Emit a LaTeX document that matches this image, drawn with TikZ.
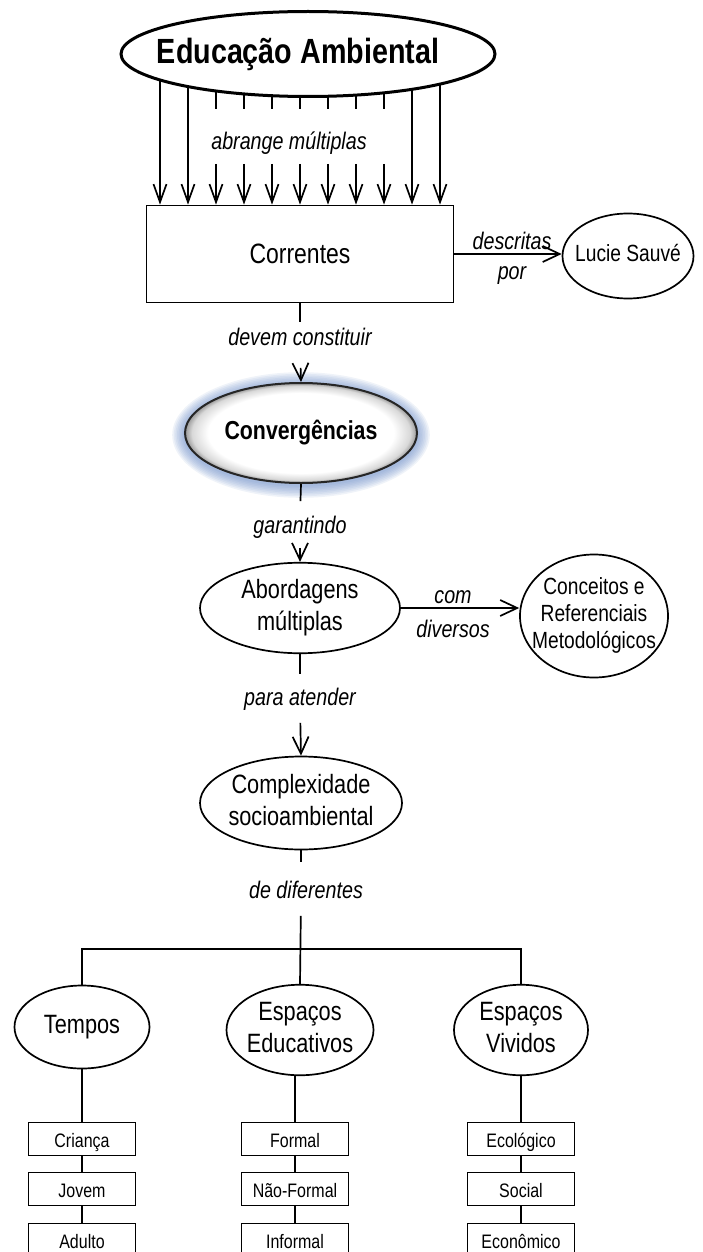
\documentclass[tikz,border=0pt]{standalone}
\usepackage{fontspec}
\setmainfont{Liberation Sans}[FakeStretch=0.82]
\usepackage{tikz}
\usetikzlibrary{arrows.meta}
\usetikzlibrary{shapes.geometric}
\usetikzlibrary{backgrounds}
\usetikzlibrary{positioning}

\definecolor{glowblue}{RGB}{105,140,200}
\pgfdeclareradialshading{convrim}{\pgfpoint{0bp}{0bp}}{color(0bp)=(white); color(20bp)=(white); color(23.5bp)=(black!15); color(25bp)=(black!40); color(50bp)=(black!40)}
\newcommand{\ovaltext}[1]{\makebox[0pt]{\begin{tabular}{@{}c@{}}#1\end{tabular}}}

\tikzset{
    oval/.style={ellipse, draw, fill=white, inner sep=0pt, font=\fontsize{26.5}{32}\selectfont},
    smalloval/.style={oval, font=\fontsize{23.4}{27}\selectfont},
    itembox/.style={rectangle, draw, fill=white, inner sep=0pt, minimum width=107pt, minimum height=33pt, text height=17.5pt, text depth=0pt, font=\fontsize{19.5}{22}\selectfont},
    linklabel/.style={inner sep=0pt, text height=16pt, text depth=0pt, font=\itshape\fontsize{24}{30}\selectfont},
    twolabel/.style={inner sep=0pt, align=center, font=\itshape\fontsize{24}{30}\selectfont},
    arr/.style={-{Straight Barb[length=17pt, width=16pt]}},
    toparr/.style={-{Straight Barb[length=18pt, width=13pt]}}
}

\begin{document}
\begin{tikzpicture}[x=1pt, y=-1pt, line width=1.7pt]
    \begin{scope}[on background layer]
        \fill[white] (0,0) rectangle (702,1252);
    \end{scope}
    \useasboundingbox (0,0) rectangle (702,1252);

    % Educacao Ambiental and Correntes
    \node[oval, line width=3pt, minimum width=374pt, minimum height=85pt, font=\bfseries\fontsize{35}{40}\selectfont] (edu) at (308,54) {\makebox[0pt]{Educação Ambiental\hspace{20pt}}};
    \node[linklabel] (abr) at (289,142) {abrange múltiplas};
    \node[rectangle, draw, minimum width=307pt, minimum height=97pt, font=\fontsize{28}{30}\selectfont] (cor) at (300,254) {Correntes};

    % Lucie Sauve
    \node[smalloval, minimum width=131pt, minimum height=85pt] (lucie) at (628,256) {\ovaltext{Lucie Sauvé}};
    \node[twolabel] (desc) at (512,258) {descritas\\por};
    \draw[arr] (cor.east) -- (cor.east -| lucie.west);

    % Convergencias
    \node[linklabel] (dev) at (300,337) {devem constituir};
    \node[oval, shade, shading=convrim, draw=black!85, line width=2pt, minimum width=232pt, minimum height=100pt, font=\bfseries\fontsize{26}{30}\selectfont] (conv) at (301,433) {\ovaltext{Convergências}};
    \draw[shorten >=6pt] (cor.south) -- (dev.north);
    \draw[arr, shorten <=22pt] (dev.south) -- (conv.north);

    % Abordagens and Conceitos
    \node[linklabel] (gar) at (300,525) {garantindo};
    \node[oval, minimum width=200pt, minimum height=85pt] (abo) at (300,608) {\ovaltext{Abordagens\\múltiplas}};
    \node[twolabel, font=\itshape\fontsize{24}{34}\selectfont] (com) at (453,614) {com\\diversos};
    \node[smalloval, minimum width=148pt, minimum height=123pt] (conc) at (594,616) {\ovaltext{Conceitos e\\Referenciais\\Metodológicos}};
    \draw[shorten >=15pt] (conv.south) -- (gar.north);
    \draw[arr, shorten <=14pt] (gar.south) -- (abo.north);
    \draw[arr] (abo.east) -- (abo.east -| conc.west);

    % Complexidade
    \node[linklabel] (par) at (300,697) {para atender};
    \node[oval, minimum width=202pt, minimum height=93pt] (cpx) at (301,803) {\ovaltext{Complexidade\\socioambiental}};
    \node[linklabel] (dif) at (306,890) {de diferentes};
    \draw[shorten >=14pt] (abo.south) -- (par.north);
    \draw[arr, shorten <=17pt] (par.south) -- (cpx.north);

    % Tempos and Espacos
    \coordinate (bar) at (300,949);
    \node[oval, minimum width=135pt, minimum height=83pt] (tem) at (82,1027) {\ovaltext{Tempos}};
    \node[oval, minimum width=147pt, minimum height=84pt] (edc) at (300,1030) {\ovaltext{Espaços\\Educativos}};
    \node[oval, minimum width=134pt, minimum height=85pt] (viv) at (521,1030) {\ovaltext{Espaços\\Vividos}};
    \draw[shorten >=19pt] (cpx.south) -- (cpx.south |- dif.north);
    \draw[shorten <=17pt] (cpx.south |- dif.south) -- (edc.north);
    \draw (tem.north) |- (bar) -| (viv.north);

    % Item boxes
    \node[itembox] (cri) at (82,1139) {Criança};
    \node[itembox] (jov) at (82,1189) {Jovem};
    \node[itembox] (adu) at (82,1240) {Adulto};
    \node[itembox] (fml) at (295,1139) {Formal};
    \node[itembox] (nfo) at (295,1189) {Não-Formal};
    \node[itembox] (inf) at (295,1240) {Informal};
    \node[itembox] (eco) at (521,1139) {Ecológico};
    \node[itembox] (soc) at (521,1189) {Social};
    \node[itembox] (ecn) at (521,1240) {Econômico};
    \draw (tem) -- (cri) -- (jov) -- (adu);
    \draw (edc.south -| fml) -- (fml) -- (nfo) -- (inf);
    \draw (viv) -- (eco) -- (soc) -- (ecn);

    % Arrows from Educacao Ambiental, glow of Convergencias
    \begin{scope}[on background layer={line width=1.7pt}]
        \foreach \x in {160,188,412,440}
            \draw[toparr] (\x,0 |- edu.center) -- (\x,0 |- cor.north);
        \foreach \x in {216,244,...,384} {
            \draw[shorten >=24pt] (\x,0 |- edu.center) -- (\x,0 |- abr.north);
            \draw[toparr, shorten <=13pt] (\x,0 |- abr.south) -- (\x,0 |- cor.north);
        }
        \foreach \k in {1,...,8}
            \fill[glowblue, opacity=0.1] ([yshift=-2pt]conv.center) ellipse [x radius={116pt+1.6pt*\k}, y radius={50pt+1.6pt*\k}];
    \end{scope}
\end{tikzpicture}
\end{document}
